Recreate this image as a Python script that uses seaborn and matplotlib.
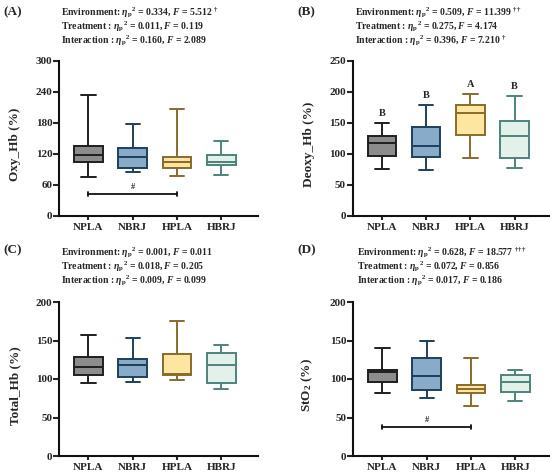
import numpy as np
import pandas as pd
import matplotlib
matplotlib.use("Agg")
import matplotlib.pyplot as plt
import seaborn as sns

sns.set_style("ticks")
plt.rcParams["font.family"] = ["Liberation Serif", "DejaVu Serif"]
plt.rcParams["font.weight"] = "bold"
plt.rcParams["axes.labelweight"] = "bold"
plt.rcParams["mathtext.fontset"] = "custom"
plt.rcParams["mathtext.rm"] = "Liberation Serif:bold"
plt.rcParams["mathtext.it"] = "Liberation Serif:bold:italic"
plt.rcParams["mathtext.bf"] = "Liberation Serif:bold"

groups = ["NPLA", "NBRJ", "HPLA", "HBRJ"]
fill_colors = ["#8c8c8c", "#88abca", "#fde7a0", "#e2f1e9"]
edge_colors = ["#1f1f1f", "#1f3f5a", "#8a6a2c", "#4d827c"]

# five-number summaries: min, Q1, median, Q3, max
oxy_hb = {"NPLA": [75.6, 104.0, 118.3, 135.0, 234.7],
          "NBRJ": [84.7, 93.0, 114.4, 130.6, 177.0],
          "HPLA": [76.3, 92.4, 103.4, 113.8, 206.9],
          "HBRJ": [79.5, 98.3, 104.7, 117.6, 145.4]}
deoxy_hb = {"NPLA": [76.0, 96.4, 117.5, 128.2, 149.2],
            "NBRJ": [73.8, 95.4, 112.1, 142.8, 178.9],
            "HPLA": [93.2, 130.4, 166.5, 179.4, 196.7],
            "HBRJ": [76.5, 92.7, 128.2, 153.6, 192.9]}
total_hb = {"NPLA": [94.8, 104.8, 116.0, 128.6, 157.6],
            "NBRJ": [96.1, 103.0, 117.7, 126.4, 152.8],
            "HPLA": [98.7, 104.8, 106.9, 132.0, 175.3],
            "HBRJ": [87.0, 95.2, 118.2, 134.2, 144.6]}
sto2 = {"NPLA": [81.8, 96.1, 108.7, 111.3, 139.8],
        "NBRJ": [75.3, 86.1, 103.9, 127.3, 149.4],
        "HPLA": [65.4, 81.8, 87.4, 92.2, 127.3],
        "HBRJ": [71.0, 83.1, 95.7, 105.2, 111.7]}

panel_labels = ["(A)", "(B)", "(C)", "(D)"]
y_labels = ["Oxy_Hb (%)", "Deoxy_Hb (%)", "Total_Hb (%)", "StO$_2$ (%)"]
y_max = [300, 250, 200, 200]
y_step = [60, 50, 50, 50]

eta_env = ["0.334", "0.509", "0.001", "0.628"]
f_env = ["5.512", "11.399", "0.011", "18.577"]
mark_env = ["†", "††", "", "†††"]
eta_trt = ["0.011", "0.275", "0.018", "0.072"]
f_trt = ["0.119", "4.174", "0.205", "0.856"]
eta_int = ["0.160", "0.396", "0.009", "0.017"]
f_int = ["2.089", "7.210", "0.099", "0.186"]
mark_int = ["", "†", "", ""]

# significance bars: (panel, from group, to group, y value)
sig_bars = [(0, "NPLA", "HPLA", 42.0), (3, "NPLA", "HPLA", 38.0)]
# letters above boxes in panel B
letters_b = ["B", "B", "A", "B"]

datasets = [oxy_hb, deoxy_hb, total_hb, sto2]

W, H = 550, 475
fig = plt.figure(figsize=(W / 100, H / 100), dpi=100)

ax_rects_px = [(59.3, 61.0, 199, 154.7), (352.7, 61.0, 199, 154.7),
               (59.3, 302.0, 199, 154.0), (353.3, 302.0, 199, 154.0)]
header_px = [(61, 5.5), (355, 5.5), (61, 245.0), (356.7, 245.0)]
plabel_px = [(3, 12.7), (297, 12.7), (3, 250.0), (297, 250.0)]

for i in range(4):
    lx, ty, w, h = ax_rects_px[i]
    ax = fig.add_axes([lx / W, 1 - (ty + h) / H, w / W, h / H])
    d = datasets[i]
    df = pd.DataFrame([(g, v) for g in groups for v in d[g]], columns=["group", "value"])
    sns.boxplot(data=df, x="group", y="value", order=groups, hue="group",
                hue_order=groups, palette=fill_colors, legend=False,
                width=0.65, linewidth=1.4, whis=(0, 100), showfliers=False,
                saturation=1, ax=ax)
    for p in ax.patches:
        verts = p.get_path().vertices
        k = int(np.clip(round(float(np.mean(verts[:, 0]))), 0, 3))
        p.set_edgecolor(edge_colors[k])
        p.set_linewidth(1.4)
    for ln in ax.lines:
        xd = np.asarray(ln.get_xdata(), dtype=float)
        if xd.size == 0:
            continue
        k = int(np.clip(round(float(np.mean(xd))), 0, 3))
        ln.set_color(edge_colors[k])
        ln.set_linewidth(1.4)

    ax.set_xlim(-0.66, 3.84)
    ax.set_ylim(0, y_max[i])
    ax.set_yticks(np.arange(0, y_max[i] + 1, y_step[i]))
    ax.set_xlabel("")
    ax.set_ylabel(y_labels[i], fontsize=9.5, fontweight="bold")
    ax.yaxis.set_label_coords(-0.19, 0.46)
    sns.despine(ax=ax)
    for s in ["left", "bottom"]:
        ax.spines[s].set_linewidth(1.5)
        ax.spines[s].set_color("#111111")
    ax.tick_params(axis="y", length=4, width=1.5, pad=1, labelsize=8)
    ax.tick_params(axis="x", length=3, width=1.5, pad=2, labelsize=8)
    for t in ax.get_xticklabels() + ax.get_yticklabels():
        t.set_fontweight("bold")

    for (pi, g0, g1, yv) in sig_bars:
        if pi == i:
            x0, x1 = groups.index(g0), groups.index(g1)
            ax.plot([x0, x1], [yv, yv], color="#111111", lw=1.3)
            dy = y_max[i] * 0.012
            ax.plot([x0, x0], [yv - dy, yv + dy], color="#111111", lw=1.3)
            ax.plot([x1, x1], [yv - dy, yv + dy], color="#111111", lw=1.3)
            ax.text((x0 + x1) / 2, yv + y_max[i] * 0.02, "#", ha="center",
                    va="bottom", fontsize=6, fontweight="bold")
    if i == 1:
        for k, g in enumerate(groups):
            ax.text(k, d[g][4] + 16, letters_b[k], ha="center", va="center",
                    fontsize=7.5, fontweight="bold")

    hx, hy = header_px[i]
    lines = [
        rf"Environment: $\eta_{{\mathrm{{p}}}}{{}}^{{2}}$ = {eta_env[i]}, $F$ = {f_env[i]}"
        + (rf" $^{{{mark_env[i]}}}$" if mark_env[i] else ""),
        rf"Treatment : $\eta_{{\mathrm{{p}}}}{{}}^{{2}}$ = {eta_trt[i]}, $F$ = {f_trt[i]}",
        rf"Interaction : $\eta_{{\mathrm{{p}}}}{{}}^{{2}}$ = {eta_int[i]}, $F$ = {f_int[i]}"
        + (rf" $^{{{mark_int[i]}}}$" if mark_int[i] else ""),
    ]
    fig.text(hx / W, 1 - hy / H, "\n".join(lines), ha="left", va="top",
             fontsize=7, fontweight="bold", linespacing=0.95)
    px, py = plabel_px[i]
    fig.text(px / W, 1 - py / H, panel_labels[i], ha="left", va="center",
             fontsize=9.5, fontweight="bold")

fig.savefig("out.png", dpi=100)
